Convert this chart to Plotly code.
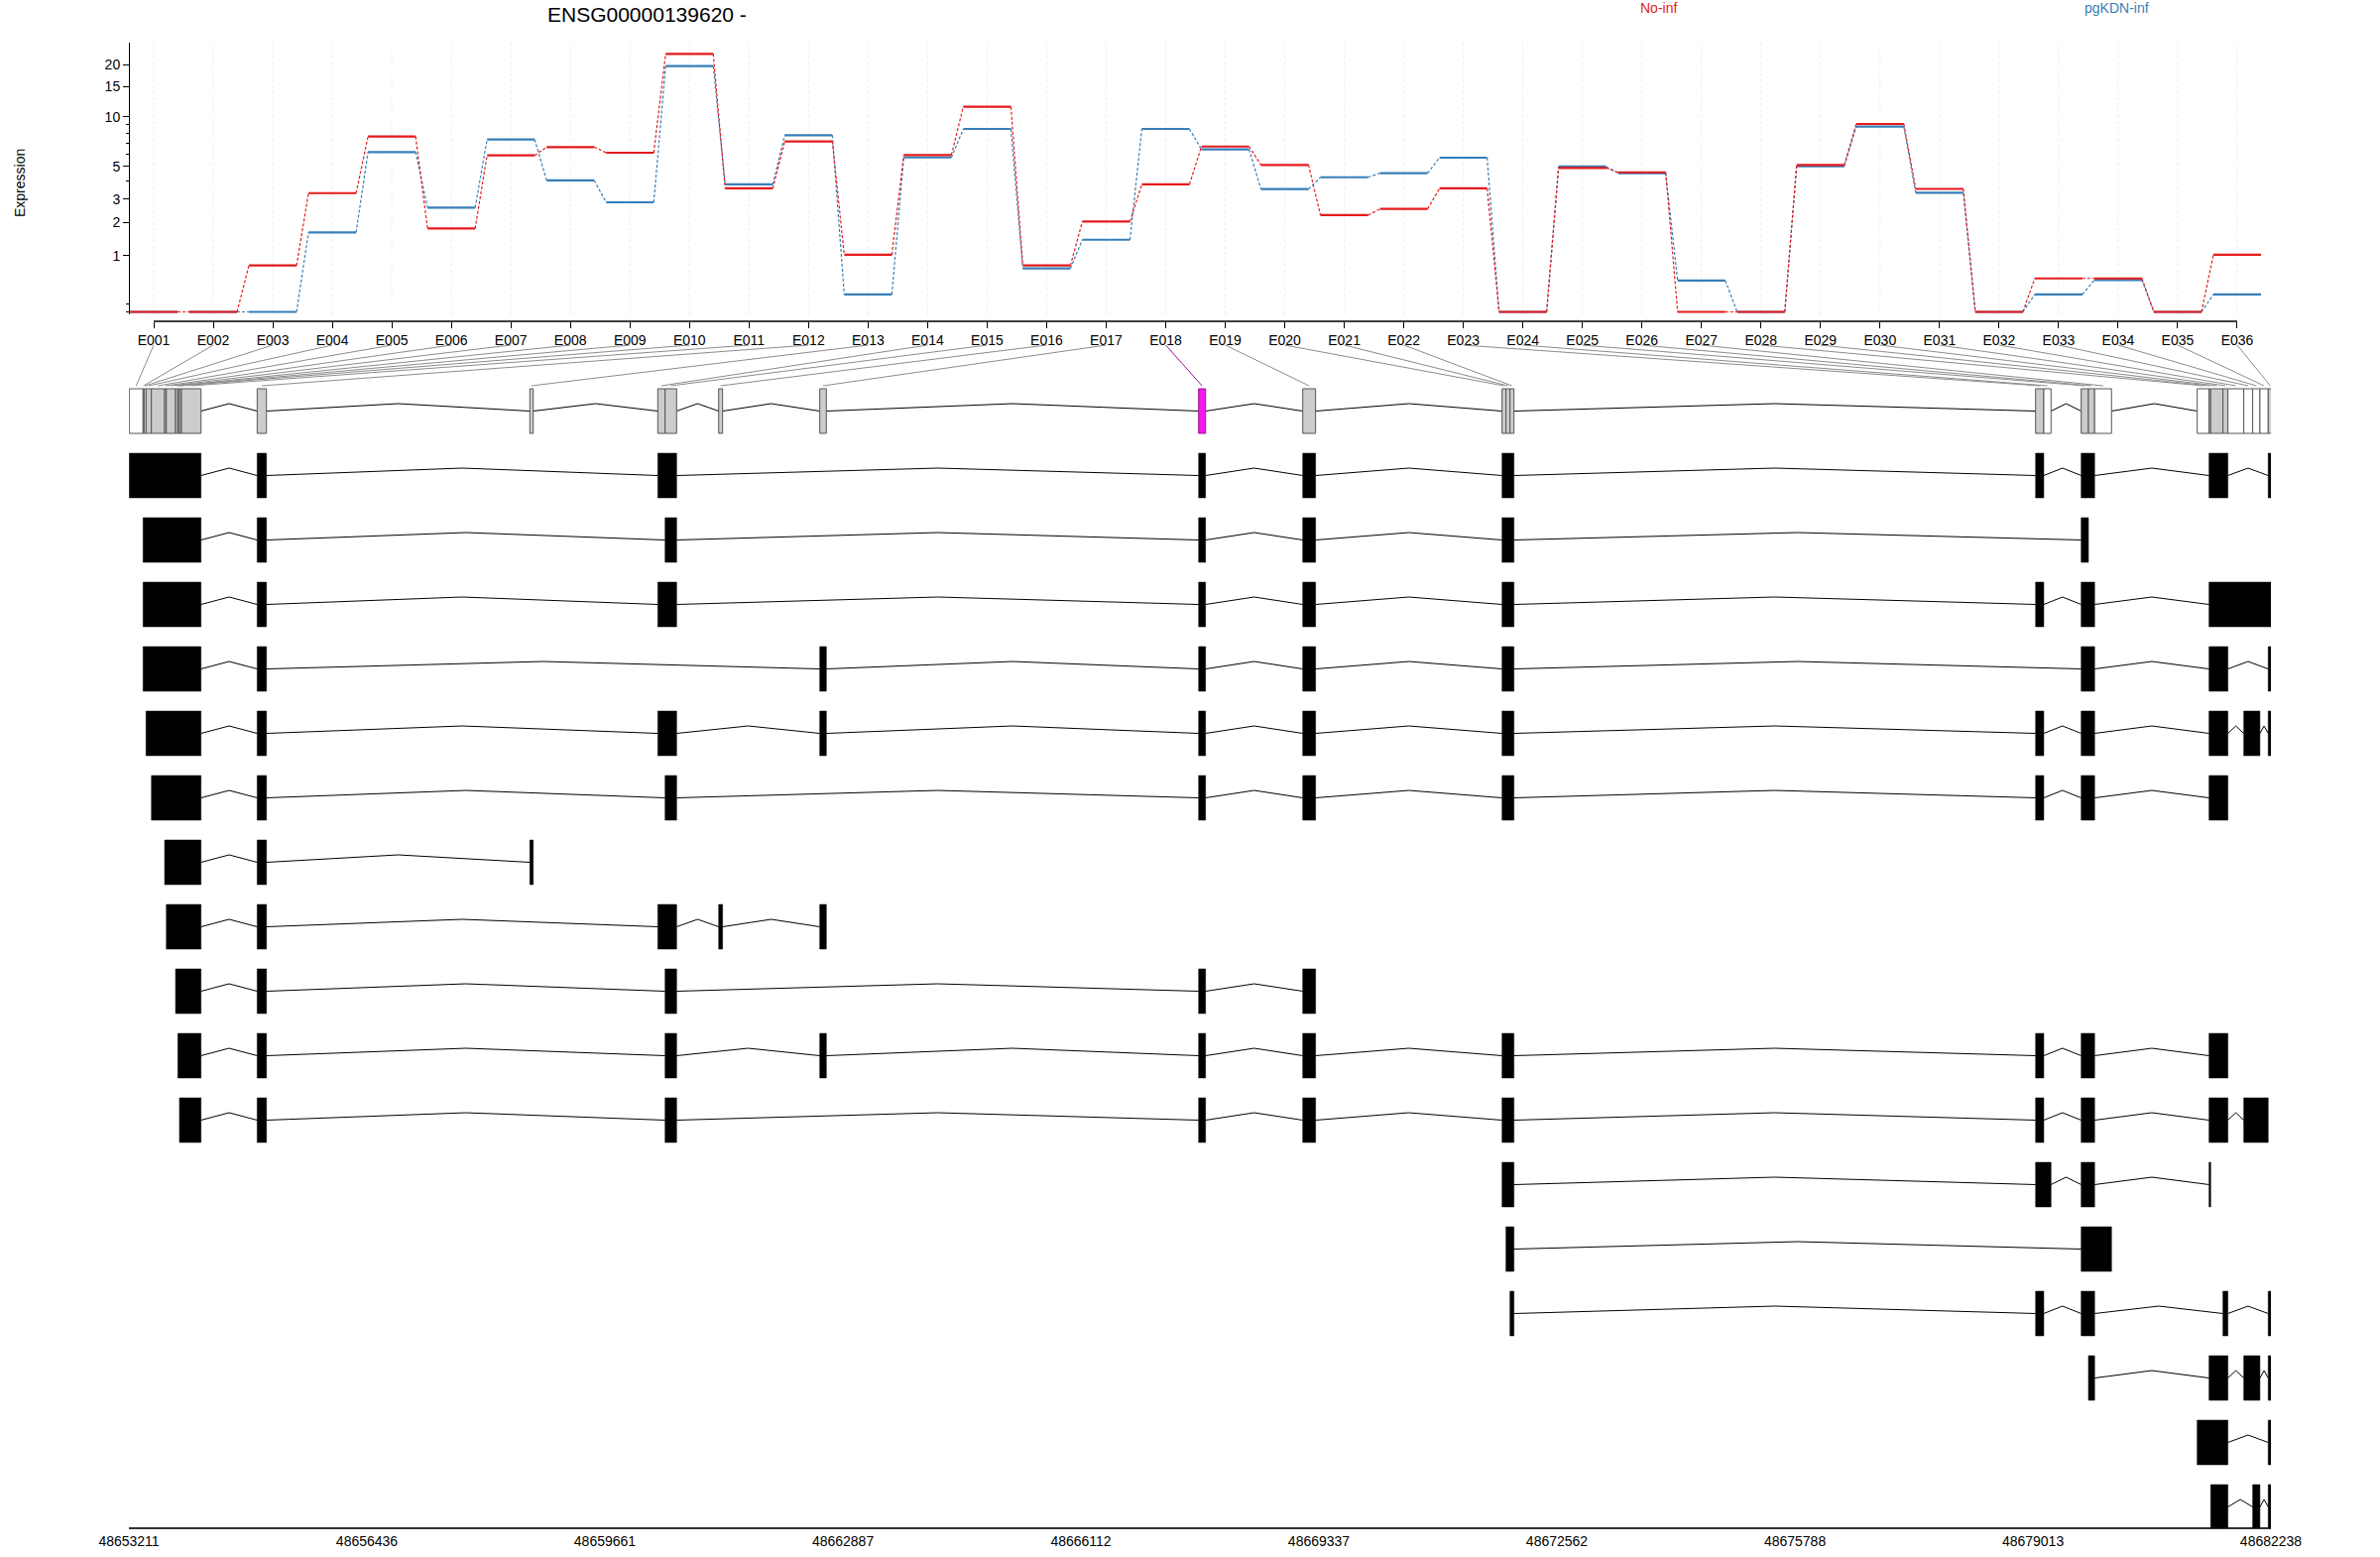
import math
import plotly.graph_objects as go

# ---------------- data ----------------
gene_id = "ENSG00000139620"
strand = "-"
conditions = ["No-inf", "pgKDN-inf"]

exon_bins = [f"E{i:03d}" for i in range(1, 37)]

bin_start = [48653215, 48653403, 48653417, 48653443, 48653516, 48653695, 48653718, 48653843,
             48653874, 48653896, 48653923, 48654949, 48658644, 48660378, 48660477, 48661203,
             48662573, 48667707, 48669118, 48671819, 48671872, 48671926, 48679049, 48679160,
             48679667, 48679765, 48679849, 48681239, 48681400, 48681422, 48681588, 48681655,
             48681870, 48681991, 48682089, 48682201]
bin_end = [48653403, 48653417, 48653443, 48653516, 48653695, 48653718, 48653843, 48653874,
           48653896, 48653923, 48654188, 48655075, 48658690, 48660477, 48660633, 48661256,
           48662662, 48667801, 48669292, 48671872, 48671926, 48671980, 48679160, 48679258,
           48679765, 48679849, 48680078, 48681400, 48681422, 48681588, 48681655, 48681870,
           48681991, 48682089, 48682201, 48682260]
# 'n' = not tested, 't' = tested, 's' = significant
bin_status = ["n", "n", "n", "t", "t", "t", "t", "t", "t", "t", "t", "t", "t", "t", "t", "t",
              "t", "s", "t", "t", "t", "t", "t", "n", "t", "t", "n", "n", "t", "t", "t", "n",
              "n", "n", "n", "t"]

expr_noinf = [0, 0, 0.77, 3.31, 7.65, 1.79, 5.86, 6.6, 6.09, 22.9, 3.57, 7.14, 1.02, 5.89,
              11.47, 0.77, 2.04, 3.81, 6.65, 5.10, 2.29, 2.55, 3.57, 0, 4.88, 4.57, 0, 0,
              5.10, 9.1, 3.54, 0, 0.51, 0.51, 0, 1.02]
expr_pgkdn = [0, 0, 0, 1.66, 6.15, 2.61, 7.34, 4.04, 2.85, 19.57, 3.80, 7.80, 0.24, 5.69,
              8.50, 0.71, 1.43, 8.50, 6.38, 3.53, 4.24, 4.51, 5.67, 0, 4.98, 4.51, 0.47, 0,
              5.0, 8.77, 3.33, 0, 0.24, 0.48, 0, 0.24]

# transcripts: lists of (first bin, last bin), 1-based bin numbers
transcripts = [
    [(1, 11), (12, 12), (14, 15), (18, 18), (19, 19), (20, 22), (23, 23), (25, 26), (29, 31), (36, 36)],
    [(2, 11), (12, 12), (15, 15), (18, 18), (19, 19), (20, 22), (25, 25)],
    [(2, 11), (12, 12), (14, 15), (18, 18), (19, 19), (20, 22), (23, 23), (25, 26), (29, 36)],
    [(2, 11), (12, 12), (17, 17), (18, 18), (19, 19), (20, 22), (25, 26), (29, 31), (36, 36)],
    [(4, 11), (12, 12), (14, 15), (17, 17), (18, 18), (19, 19), (20, 22), (23, 23), (25, 26), (29, 31), (33, 34), (36, 36)],
    [(5, 11), (12, 12), (15, 15), (18, 18), (19, 19), (20, 22), (23, 23), (25, 26), (29, 31)],
    [(6, 11), (12, 12), (13, 13)],
    [(7, 11), (12, 12), (14, 15), (16, 16), (17, 17)],
    [(8, 11), (12, 12), (15, 15), (18, 18), (19, 19)],
    [(9, 11), (12, 12), (15, 15), (17, 17), (18, 18), (19, 19), (20, 22), (23, 23), (25, 26), (29, 31)],
    [(10, 11), (12, 12), (15, 15), (18, 18), (19, 19), (20, 22), (23, 23), (25, 26), (29, 31), (33, 35)],
    [(20, 22), (23, 24), (25, 26), (29, 29)],
    [(21, 22), (25, 27)],
    [(22, 22), (23, 23), (25, 26), (31, 31), (36, 36)],
    [(26, 26), (29, 31), (33, 34), (36, 36)],
    [(28, 31), (36, 36)],
    [(30, 31), (34, 34), (36, 36)],
]

genome_ticks = [48653211, 48656436, 48659661, 48662887, 48666112,
                48669337, 48672562, 48675788, 48679013, 48682238]

y_major = [1, 2, 3, 5, 10, 15, 20]
y_minor = [0, 0.1, 4, 6, 7, 8, 9]

# ---------------- layout constants (pixels) ----------------
W, H = 2400, 1570
FONT = "Liberation Sans, Arial, Helvetica, sans-serif"
RED, BLUE = "#E41A1C", "#377EB8"

EX_L, EX_R = 131, 2280
EX_RANGE = [0.6, 36.4]
EY_T, EY_ZERO = 43, 314.5
PX_PER_UNIT = 188.7
Y_TOP = (EY_ZERO - EY_T) / PX_PER_UNIT
Y_BOTPAD = 0.012
EY_B = EY_ZERO + Y_BOTPAD * PX_PER_UNIT
XAX_Y = 324

GX_L, GX_R = 130, 2290
G_RANGE = [genome_ticks[0], genome_ticks[-1]]
GY_T, GY_B = 380, 1541
ROW0, PITCH = 414.5, 65.0
R_TOP = (GY_T - ROW0) / PITCH
R_BOT = (GY_B - ROW0) / PITCH
HALF = 22.5 / PITCH
HAT = 7.5 / PITCH


def pxx(x):
    return x / W


def pyy(y):
    return 1 - y / H


def tr(v):
    return math.log10(v + 1)


def ex_paper(i):
    return pxx(EX_L + (i - EX_RANGE[0]) / (EX_RANGE[1] - EX_RANGE[0]) * (EX_R - EX_L))


def g_paper(g):
    return pxx(GX_L + (g - G_RANGE[0]) / (G_RANGE[1] - G_RANGE[0]) * (GX_R - GX_L))


fig = go.Figure()
shapes = []

# ---------------- expression panel ----------------
n = len(exon_bins)
idx = list(range(1, n + 1))
for i in idx:
    shapes.append(dict(type="line", xref="x", yref="paper", x0=i, x1=i,
                       y0=pyy(EY_B), y1=pyy(EY_T), layer="below",
                       line=dict(color="#EDEDED", width=1, dash="dot")))

for vals, col in [(expr_pgkdn, BLUE), (expr_noinf, RED)]:
    sx, sy, cx, cy = [], [], [], []
    for k, v in enumerate(vals):
        i = idx[k]
        sx += [i - 0.4, i + 0.4, None]
        sy += [tr(v), tr(v), None]
        if k + 1 < n:
            cx += [i + 0.4, i + 0.6, None]
            cy += [tr(v), tr(vals[k + 1]), None]
    fig.add_trace(go.Scatter(x=cx, y=cy, mode="lines", hoverinfo="skip",
                             line=dict(color=col, width=1.2, dash="3px,2px"),
                             xaxis="x", yaxis="y", showlegend=False))
    fig.add_trace(go.Scatter(x=sx, y=sy, mode="lines", hoverinfo="skip",
                             line=dict(color=col, width=2.2),
                             xaxis="x", yaxis="y", showlegend=False))

# x axis line of the expression panel (first to last tick)
shapes.append(dict(type="line", xref="x", yref="paper", x0=idx[0], x1=idx[-1],
                   y0=pyy(XAX_Y), y1=pyy(XAX_Y), line=dict(color="black", width=1.5)))

# ---------------- gene model + transcripts ----------------
fill_map = {"n": "white", "t": "#CCCCCC", "s": "#F219ED"}
edge_map = {"n": "#555555", "t": "#555555", "s": "#9E109B"}

hx, hy = [], []
for k in range(n):
    shapes.append(dict(type="rect", xref="x2", yref="y2", x0=bin_start[k], x1=bin_end[k],
                       y0=-HALF, y1=HALF, fillcolor=fill_map[bin_status[k]],
                       line=dict(color=edge_map[bin_status[k]], width=1)))
    if k + 1 < n and bin_end[k] < bin_start[k + 1]:
        a, b = bin_end[k], bin_start[k + 1]
        hx += [a, (a + b) / 2, b, None]
        hy += [0, -HAT, 0, None]

for r, tx in enumerate(transcripts, start=1):
    ex = [(bin_start[a - 1], bin_end[b - 1]) for a, b in tx]
    for j, (s, e) in enumerate(ex):
        shapes.append(dict(type="rect", xref="x2", yref="y2", x0=s, x1=e,
                           y0=r - HALF, y1=r + HALF, fillcolor="black",
                           line=dict(color="black", width=0.5)))
        if j + 1 < len(ex):
            a, b = e, ex[j + 1][0]
            hx += [a, (a + b) / 2, b, None]
            hy += [r, r - HAT, r, None]

fig.add_trace(go.Scatter(x=hx, y=hy, mode="lines", hoverinfo="skip",
                         line=dict(color="black", width=1),
                         xaxis="x2", yaxis="y2", showlegend=False))

# connectors from exon labels to exon bins
for k in range(n):
    col = "#9E109B" if bin_status[k] == "s" else "#8C8C8C"
    shapes.append(dict(type="line", xref="paper", yref="paper",
                       x0=ex_paper(idx[k]), y0=pyy(348),
                       x1=g_paper((bin_start[k] + bin_end[k]) / 2), y1=pyy(389),
                       line=dict(color=col, width=1)))

# ---------------- annotations ----------------
annotations = [
    dict(text=f"{gene_id} {strand}", x=pxx(652), y=pyy(15), xref="paper", yref="paper",
         showarrow=False, font=dict(family=FONT, size=21, color="black"),
         xanchor="center", yanchor="middle"),
    dict(text=conditions[0], x=pxx(1672), y=pyy(8), xref="paper", yref="paper",
         showarrow=False, font=dict(family=FONT, size=14, color=RED),
         xanchor="center", yanchor="middle"),
    dict(text=conditions[1], x=pxx(2134), y=pyy(8), xref="paper", yref="paper",
         showarrow=False, font=dict(family=FONT, size=14, color=BLUE),
         xanchor="center", yanchor="middle"),
    dict(text="Expression", x=pxx(20), y=pyy(185), xref="paper", yref="paper",
         showarrow=False, textangle=-90, font=dict(family=FONT, size=14, color="black"),
         xanchor="center", yanchor="middle"),
]

tickfont = dict(family=FONT, size=14, color="black")

fig.update_layout(
    width=W, height=H, margin=dict(l=0, r=0, t=0, b=0, pad=0, autoexpand=False),
    paper_bgcolor="white", plot_bgcolor="white", showlegend=False,
    shapes=shapes, annotations=annotations,
    xaxis=dict(domain=[pxx(EX_L), pxx(EX_R)], range=EX_RANGE, anchor="free",
               position=pyy(XAX_Y), showline=False, showgrid=False, zeroline=False,
               ticks="outside", ticklen=6, tickwidth=1, tickcolor="black",
               tickvals=idx, ticktext=exon_bins, tickfont=tickfont, fixedrange=True,
               automargin=False),
    yaxis=dict(domain=[pyy(EY_B), pyy(EY_T)], range=[-Y_BOTPAD, Y_TOP], anchor="x",
               showline=True, linecolor="black", linewidth=1, showgrid=False,
               zeroline=False, ticks="outside", ticklen=6, tickwidth=1,
               tickcolor="black", tickvals=[tr(v) for v in y_major],
               ticktext=[str(v) for v in y_major], tickfont=tickfont,
               minor=dict(tickvals=[tr(v) for v in y_minor], ticks="outside",
                          ticklen=3, tickcolor="black", showgrid=False),
               fixedrange=True, automargin=False),
    xaxis2=dict(domain=[pxx(GX_L), pxx(GX_R)], range=G_RANGE, anchor="free",
                position=pyy(GY_B), showline=True, linecolor="#333333", linewidth=2,
                showgrid=False, zeroline=False, ticks="",
                tickvals=genome_ticks, ticktext=[str(t) for t in genome_ticks],
                tickfont=tickfont, fixedrange=True, automargin=False),
    yaxis2=dict(domain=[pyy(GY_B), pyy(GY_T)], range=[R_BOT, R_TOP], anchor="x2",
                visible=False, fixedrange=True, automargin=False),
)

fig.write_html("out.html", config={"displayModeBar": False},
               post_script="document.body.style.margin='0px';")
